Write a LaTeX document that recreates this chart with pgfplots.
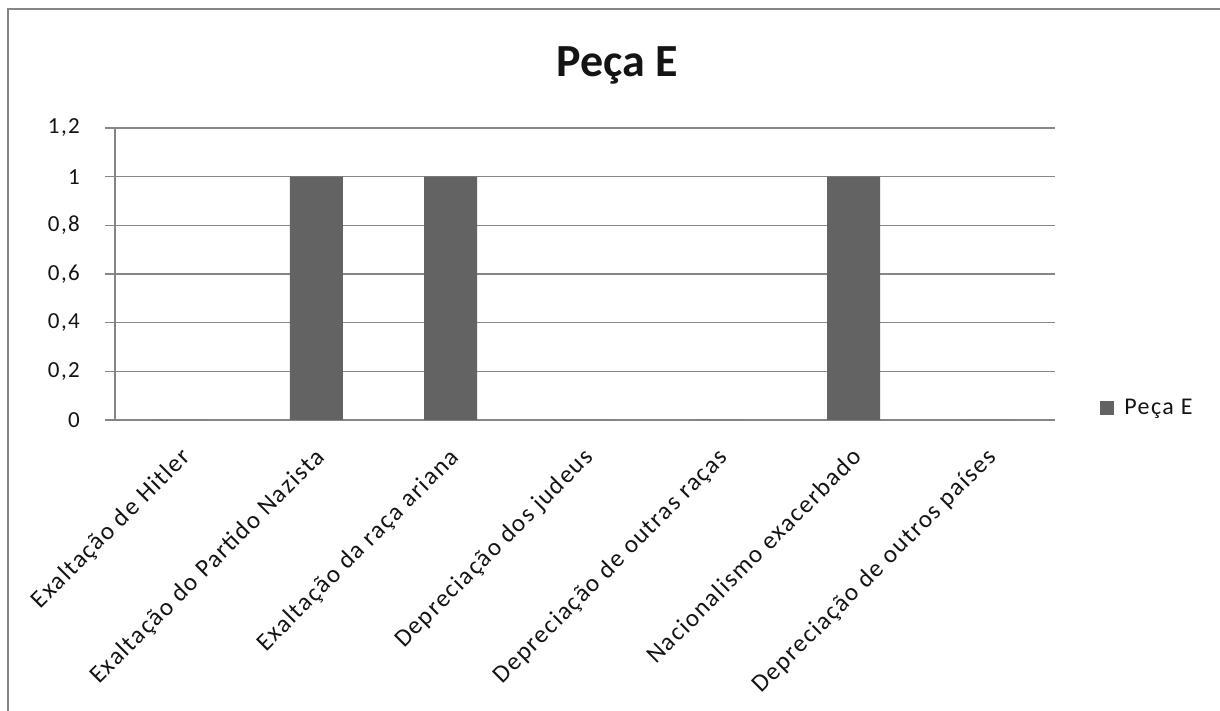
\documentclass[border=0pt]{standalone}
\usepackage{fontspec}
\setmainfont{Carlito}[LetterSpace=6]
\newfontfamily\titlefont{Carlito}
\usepackage{pgfplots}
\pgfplotsset{compat=1.18}
\definecolor{gridgray}{RGB}{134,134,134}
\definecolor{bargray}{RGB}{99,99,99}
\definecolor{txt}{RGB}{20,20,20}
\begin{document}
\begin{tikzpicture}
\useasboundingbox (0,0) rectangle (1220pt,711pt);
\draw[gridgray, line width=2pt] (8pt,0pt) -- (8pt,702pt) -- (1220pt,702pt);
\node[font=\titlefont\fontsize{46}{50}\selectfont\bfseries, anchor=base, text=txt] at (617pt,634pt) {Peça E};
\begin{axis}[
  at={(115pt,291pt)}, anchor=south west,
  width=940pt, height=292pt, scale only axis,
  xmin=-0.5, xmax=6.5, ymin=0, ymax=1.2,
  axis x line*=bottom, axis y line*=left,
  axis line style={gridgray, line width=1.3pt, -},
  ytick={0,0.2,0.4,0.6,0.8,1,1.2},
  ymajorgrids, major grid style={gridgray, line width=1.3pt},
  /pgf/number format/use comma,
  /pgf/number format/fixed,
  /pgf/number format/assume math mode=true,
  y tick label style={font=\fontsize{23}{24}\selectfont, text=txt, anchor=east, inner sep=0pt, xshift=-25pt},
  tick align=outside,
  major tick length=10pt,
  y tick style={gridgray, line width=1.3pt},
  xtick={0,1,2,3,4,5,6},
  xticklabels={Exaltação de Hitler, Exaltação do Partido Nazista, Exaltação da raça ariana, Depreciação dos judeus, Depreciação de outras raças, Nacionalismo exacerbado, Depreciação de outros países},
  x tick style={draw=none},
  x tick label style={font=\fontsize{25}{26}\selectfont, text=txt, xshift=-3pt, yshift=-16pt, rotate=45, anchor=north east, inner sep=0pt},
  extra x ticks={-0.5,0.5,1.5,2.5,3.5,4.5,5.5,6.5},
  extra x tick labels={},
  extra x tick style={grid=none, major tick length=9pt, tick style={gridgray, line width=1.3pt, draw=gridgray}},
  legend style={at={(axis description cs:1.048,0.041)}, anchor=west, draw=none, fill=none, font=\fontsize{24}{26}\selectfont, text=txt, inner sep=0pt, column sep=8pt},
  legend image code/.code={\fill[bargray] (0pt,-7pt) rectangle (14pt,7pt);},
]
\addplot[ybar, bar width=53pt, fill=bargray, draw=none] coordinates {(0,0) (1,1) (2,1) (3,0) (4,0) (5,1) (6,0)};
\addlegendentry{Peça E}
\end{axis}
\end{tikzpicture}
\end{document}
